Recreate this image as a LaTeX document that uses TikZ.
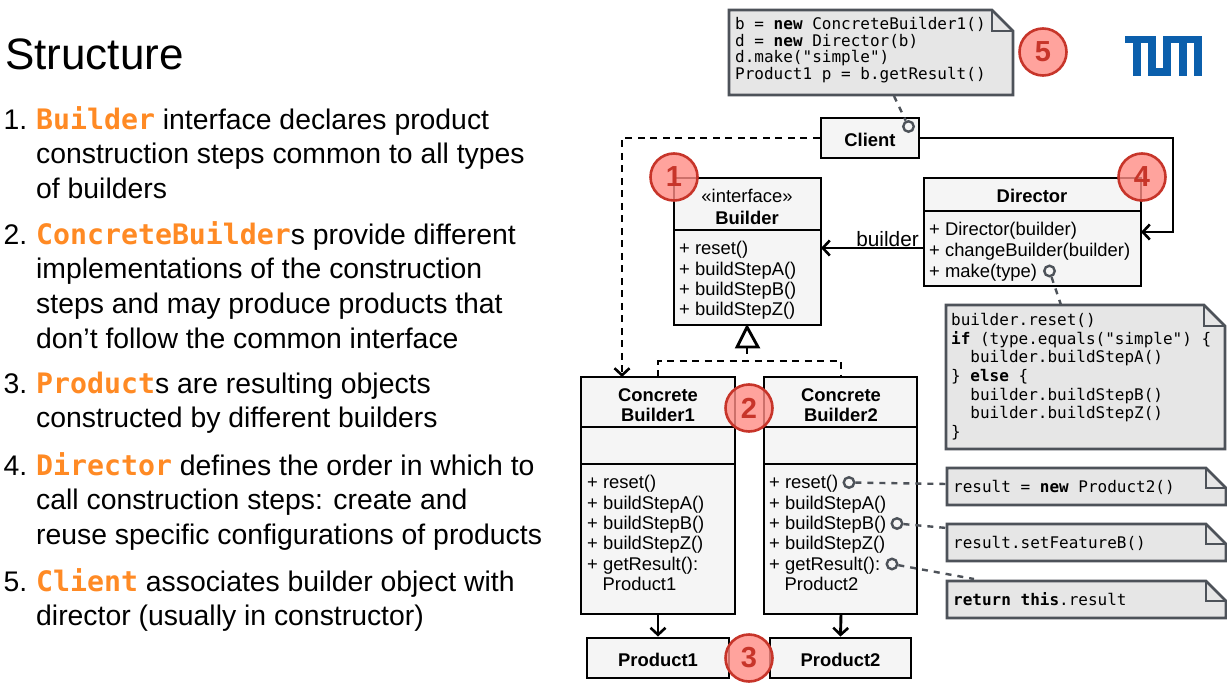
\documentclass[tikz,border=0pt]{standalone}
\usepackage{fontspec}
\setmainfont{Liberation Sans}
\newfontfamily\codefont{DejaVu Sans Mono}
\usetikzlibrary{arrows.meta,calc}
\definecolor{kw}{HTML}{FF8A24}
\definecolor{boxfill}{HTML}{F5F5F5}
\definecolor{notefill}{HTML}{E6E6E6}
\definecolor{notedraw}{HTML}{4D5259}
\definecolor{badgefill}{HTML}{FF8C85}
\definecolor{badgedraw}{HTML}{C7352A}
\definecolor{tumblue}{HTML}{0B5FAC}
\newcommand{\kwd}[1]{{\codefont\bfseries\fontsize{28.2}{34.7}\selectfont\textcolor{kw}{#1}}}
\newcommand{\num}[1]{\llap{#1.\hspace{9pt}}}
\tikzset{
  x=1pt,y=-1pt,
  para/.style={anchor=north west,inner sep=0pt,align=left,font=\fontsize{28.35}{34.7}\selectfont},
  umlbox/.style={draw=black,line width=2.9pt,fill=boxfill},
  rel/.style={line width=2.9pt,draw=black},
  open/.style={-{Straight Barb[length=7pt,width=15pt,line width=2.6pt]}},
  dashrel/.style={rel,dash pattern=on 7pt off 5.5pt},
  notebox/.style={draw=notedraw,line width=2.8pt,fill=notefill,line join=miter},
  notelink/.style={draw=notedraw,line width=2.4pt,dash pattern=on 6pt off 6pt},
  port/.style={circle,draw=notedraw,line width=2.4pt,fill=none,minimum size=10.5pt,inner sep=0pt},
  badge/.style={circle,draw=badgedraw,line width=2.6pt,fill=badgefill,fill opacity=.8,text opacity=1,minimum size=47pt,inner sep=0pt,font=\fontsize{29}{29}\selectfont\bfseries,text=badgedraw},
  uml/.style={anchor=base west,inner sep=0pt,font=\fontsize{18.4}{20}\selectfont},
  umltitle/.style={anchor=base,inner sep=0pt,font=\fontsize{18.4}{20}\selectfont\bfseries},
  simplebox/.style={umlbox,minimum height=40pt,inner sep=0pt,text height=16pt,text depth=0pt,font=\fontsize{18.4}{20}\selectfont\bfseries},
  code/.style={anchor=north west,inner sep=0pt,align=left,font=\codefont\fontsize{16}{18.7}\selectfont},
}
\newcommand{\notepath}[6]{% name, left, top, right, bottom, fold
  \draw[notebox] (#2,#3) -- (#4-#6,#3) -- (#4,#3+#6) -- (#4,#5) -- (#2,#5) -- cycle;
  \draw[notebox,fill=none] (#4-#6,#3) -- (#4-#6,#3+#6) -- (#4,#3+#6);
  \coordinate (#1) at (#2,#3);
}
\begin{document}
\begin{tikzpicture}
\useasboundingbox (0,0) rectangle (1227,688);
\fill[white] (0,0) rectangle (1227,688);

% left text
\node[anchor=base west,inner sep=0pt,font=\fontsize{44}{48}\selectfont] (title) at (5,69) {Structure};
\node[para] (i1) at (36,106) {\num{1}\kwd{Builder} interface declares product\\construction steps common to all types\\of builders};
\node[para] (i2) at (36,221) {\num{2}\kwd{ConcreteBuilder}s provide different\\implementations of the construction\\steps and may produce products that\\don’t follow the common interface};
\node[para] (i3) at (36,371.5) {\num{3}\kwd{Product}s are resulting objects\\constructed by different builders};
\node[para] (i4) at (36,452) {\num{4}\kwd{Director} defines the order in which to\\call construction steps: create and\\reuse specific configurations of products};
\node[para] (i5) at (36,568) {\num{5}\kwd{Client} associates builder object with\\director (usually in constructor)};

% logo
\fill[tumblue] (1125,35.7) rectangle (1155.7,43);
\fill[tumblue] (1132.7,43) rectangle (1140.7,75.7);
\fill[tumblue] (1148.3,43) rectangle (1155.7,75.7);
\fill[tumblue] (1148.3,68.3) rectangle (1170.7,75.7);
\fill[tumblue] (1163.3,35.7) rectangle (1170.7,75.7);
\fill[tumblue] (1163.3,35.7) rectangle (1201.7,43);
\fill[tumblue] (1179,43) rectangle (1186.7,75.7);
\fill[tumblue] (1194.3,43) rectangle (1201.7,75.7);

% boxes
\node[simplebox,minimum width=98pt] (client) at (870,138) {Client};
\draw[umlbox] (674,178) rectangle (821,325);
\coordinate (builderW) at (674,248);
\coordinate (builderE) at (821,248);
\coordinate (builderS) at (747,325);
\draw[rel] (674,230) -- (821,230);
\draw[umlbox] (924,178) rectangle (1141,286);
\coordinate (directorW) at (924,248);
\coordinate (directorE) at (1141,232);
\draw[rel] (924,211) -- (1141,211);
\draw[umlbox] (581,377) rectangle (735,614);
\draw[rel] (581,427) -- (735,427) (581,464) -- (735,464);
\draw[umlbox] (764,377) rectangle (917,614);
\draw[rel] (764,427) -- (917,427) (764,464) -- (917,464);
\coordinate (cb1N) at (622,377);
\coordinate (cb1T) at (658,377);
\coordinate (cb1S) at (658,614);
\coordinate (cb2T) at (841,377);
\coordinate (cb2S) at (841,614);
\node[simplebox,minimum width=142pt] (p1) at (658,658) {Product1};
\node[simplebox,minimum width=141pt] (p2) at (840.5,658) {Product2};

% builder text
\node[inner sep=0pt,anchor=base,font=\fontsize{18.4}{20}\selectfont] (bs) at (747,202) {«interface»};
\node[umltitle] (bt) at (747,224) {Builder};
\node[uml] (b1) at (679,254) {+ reset()};
\node[uml] (b2) at (679,275) {+ buildStepA()};
\node[uml] (b3) at (679,295) {+ buildStepB()};
\node[uml] (b4) at (679,315) {+ buildStepZ()};
% director text
\node[umltitle] (dt) at (1032,202) {Director};
\node[uml] (d1) at (929,235.5) {+ Director(builder)};
\node[uml] (d2) at (929,256) {+ changeBuilder(builder)};
\node[uml] (d3) at (929,277) {+ make(type)};
% concrete builder text
\node[umltitle] (c1a) at (658,401.5) {Concrete};
\node[umltitle] (c1b) at (658,421.5) {Builder1};
\node[umltitle] (c2a) at (841,401.5) {Concrete};
\node[umltitle] (c2b) at (841,421.5) {Builder2};
\foreach \nm/\x/\l in {a/587/1,e/769/2}{
  \node[uml] (\nm1) at (\x,488) {+ reset()};
  \node[uml] (\nm2) at (\x,509) {+ buildStepA()};
  \node[uml] (\nm3) at (\x,529) {+ buildStepB()};
  \node[uml] (\nm4) at (\x,549) {+ buildStepZ()};
  \node[uml] (\nm5) at (\x,570) {+ getResult():};
  \node[uml] (\nm6) at (\x+15.5,590) {Product\l};
}

% notes
\notepath{n5}{729}{10}{1013}{95}{21}
\node[code,font=\codefont\fontsize{16}{16.7}\selectfont] (n5t) at (735,17) {b = \textbf{new} ConcreteBuilder1()\\d = \textbf{new} Director(b)\\d.make("simple")\\Product1 p = b.getResult()};
\notepath{n4}{946}{305}{1225}{449}{21}
\node[code] (n4t) at (951,313) {builder.reset()\\\textbf{if} (type.equals("simple") \{\\\ \ builder.buildStepA()\\\} \textbf{else} \{\\\ \ builder.buildStepB()\\\ \ builder.buildStepZ()\\\}};
\notepath{n1}{947}{468}{1226}{505}{20}
\node[code] (n1t) at (953,480.5) {result = \textbf{new} Product2()};
\notepath{n2}{947}{524}{1226}{561}{20}
\node[code] (n2t) at (953,536.5) {result.setFeatureB()};
\notepath{n3}{947}{581}{1226}{618}{20}
\node[code] (n3t) at (953,592.5) {\textbf{return} \textbf{this}.result};

% note ports and links
\node[port] (pc) at (908.5,126.5) {};
\node[port] (pd) at (1049.5,271) {};
\node[port] (pr) at (849,482.5) {};
\node[port] (pb) at (897,523.5) {};
\node[port] (pg) at (892,564) {};
\coordinate (n5a) at (894,96);
\coordinate (n4a) at (1061,305);
\coordinate (n1a) at (947,484);
\coordinate (n2a) at (947,528);
\coordinate (n3a) at (974,579);
\draw[notelink] (n5a) -- (pc);
\draw[notelink] (pd) -- (n4a);
\draw[notelink] (pr) -- (n1a);
\draw[notelink] (pb) -- (n2a);
\draw[notelink] (pg) -- (n3a);

% connectors
\coordinate (corner1) at (622,138);
\coordinate (corner2) at (1173,138);
\coordinate (corner3) at (1173,232);
\coordinate (triTop) at (747,327);
\coordinate (triBase) at (747,347);
\coordinate (junction) at (747,361);
\draw[dashrel,open] (client.west) -- (corner1) -- (cb1N);
\draw[rel,open] (client.east) -- (corner2) -- (corner3) -- (directorE);
\draw[rel,open] (directorW) -- (builderE);
\node[anchor=base east,inner sep=0pt,font=\fontsize{20.8}{22}\selectfont] (blabel) at (919,246) {builder};
\draw[rel,open] (cb1S) -- (p1.north);
\draw[rel,open] (cb2S) -- (p2.north);
\draw[dashrel] (triBase) -- (junction);
\draw[dashrel] (cb1T) -- (cb1T |- junction) -- (cb2T |- junction) -- (cb2T);
\draw[rel,fill=white,line join=miter] (triTop) -- (737,347) -- (758,347) -- cycle;

% badges
\node[badge] (bd1) at (674,177) {1};
\node[badge] (bd4) at (1142,177) {4};
\node[badge] (bd5) at (1043,52) {5};
\node[badge] (bd2) at (749,408) {2};
\node[badge] (bd3) at (749,658) {3};
\end{tikzpicture}
\end{document}
